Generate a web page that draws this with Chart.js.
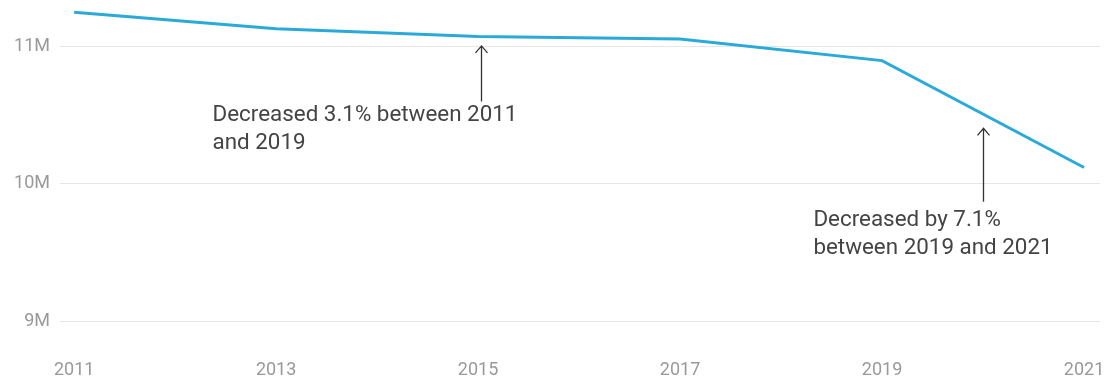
<!DOCTYPE html>
<html>
<head>
<meta charset="utf-8">
<script src="https://cdn.jsdelivr.net/npm/chart.js@4.4.1/dist/chart.umd.min.js"></script>
<style>
  html, body { margin: 0; padding: 0; background: #fff; overflow: hidden; }
  canvas { display: block; }
</style>
</head>
<body>
<canvas id="chart" width="1105" height="380"></canvas>
<script>
// data, in millions
const years = [2011, 2013, 2015, 2017, 2019, 2021];
const values = [11.251, 11.131, 11.073, 11.055, 10.898, 10.12];
const xTicks = [2011, 2013, 2015, 2017, 2019, 2021];
const yTicks = [9, 10, 11];

// annotations: arrow x (year), tip and base (millions), text lines
const noteYears = [2015.03, 2020];
const noteTips = [11.005, 10.405];
const noteBases = [10.6, 9.87];
const noteTexts = [
  ["Decreased 3.1% between 2011", "and 2019"],
  ["Decreased by 7.1%", "between 2019 and 2021"]
];
const noteTextAt = [[2012.37, 10.498], [2018.32, 9.735]];

const arrowNotes = {
  id: "arrowNotes",
  afterDatasetsDraw(chart) {
    const { ctx, scales: { x, y } } = chart;
    ctx.save();
    ctx.strokeStyle = "#333";
    ctx.lineWidth = 1.3;
    noteYears.forEach((yr, i) => {
      const px = Math.round(x.getPixelForValue(yr)) + 0.5;
      const tip = y.getPixelForValue(noteTips[i]);
      const base = y.getPixelForValue(noteBases[i]);
      ctx.beginPath();
      ctx.moveTo(px, base);
      ctx.lineTo(px, tip);
      ctx.moveTo(px - 6, tip + 7);
      ctx.lineTo(px, tip);
      ctx.lineTo(px + 6, tip + 7);
      ctx.stroke();
      ctx.fillStyle = "#444";
      ctx.font = "22.4px Roboto";
      ctx.textBaseline = "middle";
      ctx.textAlign = "left";
      const tx = x.getPixelForValue(noteTextAt[i][0]);
      const ty = y.getPixelForValue(noteTextAt[i][1]);
      noteTexts[i].forEach((line, j) => ctx.fillText(line, tx, ty + j * 28));
    });
    ctx.restore();
  }
};

new Chart(document.getElementById("chart"), {
  type: "line",
  data: {
    datasets: [{
      data: years.map((yr, i) => ({ x: yr, y: values[i] })),
      borderColor: "#2aaad8",
      borderWidth: 3,
      pointRadius: 0,
      tension: 0,
      clip: false
    }]
  },
  options: {
    responsive: false,
    animation: false,
    layout: { padding: { top: 0, right: 5, bottom: -4, left: 0 } },
    plugins: { legend: { display: false }, tooltip: { enabled: false } },
    scales: {
      x: {
        type: "linear",
        min: 2010.86,
        max: 2021.158,
        afterBuildTicks: (s) => { s.ticks = xTicks.map(v => ({ value: v })); },
        grid: { display: false, drawTicks: false },
        border: { display: false },
        ticks: {
          autoSkip: false,
          maxRotation: 0,
          padding: 0,
          color: "#999",
          font: { family: "Roboto", size: 18 },
          callback: (v) => String(v)
        }
      },
      y: {
        min: 8.724,
        max: 11.188,
        afterFit: (s) => { s.width = 60; },
        afterBuildTicks: (s) => { s.ticks = yTicks.map(v => ({ value: v })); },
        grid: { color: "#e6e6e6", drawTicks: false, lineWidth: 1 },
        border: { display: false },
        ticks: {
          padding: 10,
          color: "#999",
          font: { family: "Roboto", size: 18 },
          callback: (v) => v + "M"
        }
      }
    }
  },
  plugins: [arrowNotes]
});
</script>
</body>
</html>
